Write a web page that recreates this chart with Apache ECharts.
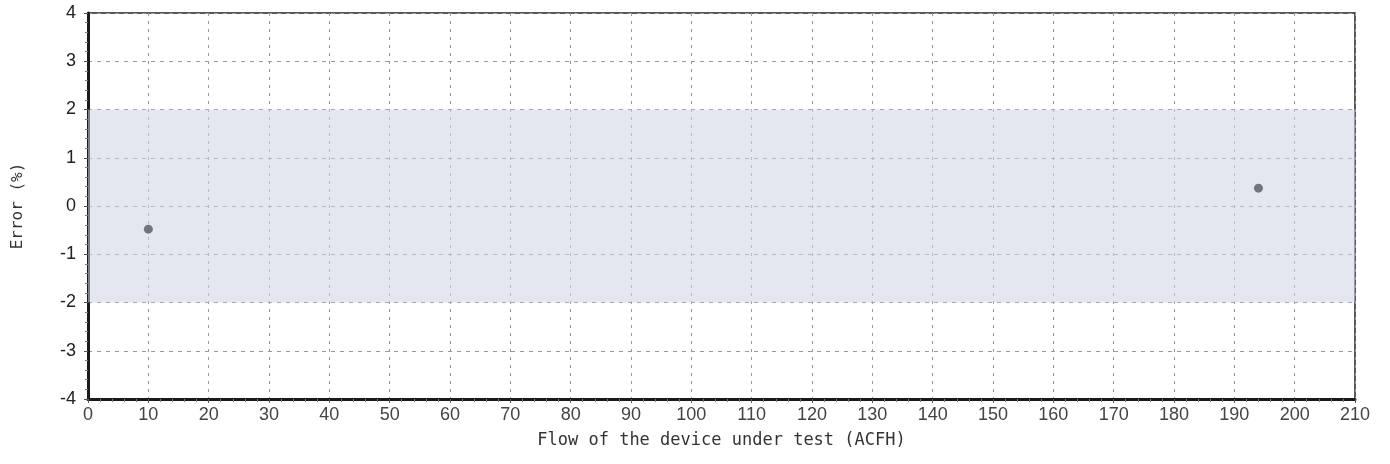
<!DOCTYPE html>
<html><head><meta charset="utf-8">
<script src="https://cdn.jsdelivr.net/npm/echarts@6/dist/echarts.min.js"></script>
<style>html,body{margin:0;padding:0;background:#fff}#c{width:1390px;height:464px}</style>
</head><body><div id="c"></div>
<script>
const xFlow = [10, 194];
const yError = [-0.48, 0.37];
const bandLimits = [-2, 2];
const xRange = [0, 210];
const yRange = [-4, 4];

const chart = echarts.init(document.getElementById('c'));
const font = 'Liberation Sans, Arial, sans-serif';
const nameFont = 'DejaVu Sans Mono, monospace';
chart.setOption({
  animation: false,
  backgroundColor: '#fff',
  grid: {left: 88, right: 35, top: 13, bottom: 65, show: true, borderColor: '#222', borderWidth: 1.5,
         containLabel: false, outerBoundsMode: 'none'},
  xAxis: {
    type: 'value', min: xRange[0], max: xRange[1], interval: 10,
    name: 'Flow of the device under test (ACFH)', nameLocation: 'middle', nameGap: 33,
    nameTextStyle: {fontFamily: nameFont, fontSize: 17, color: '#333'},
    axisLine: {show: true, onZero: false, lineStyle: {color: '#1a1a1a', width: 3}},
    axisTick: {show: true, length: 4, lineStyle: {color: '#555'}},
    minorTick: {show: true, splitNumber: 5, length: 3, lineStyle: {color: '#777'}},
    axisLabel: {fontFamily: font, fontSize: 18, color: '#444', margin: 7},
    splitLine: {show: true, lineStyle: {color: '#999', type: [3, 5], width: 1}}
  },
  yAxis: {
    type: 'value', min: yRange[0], max: yRange[1], interval: 1,
    name: 'Error (%)', nameLocation: 'middle', nameGap: 62, nameRotate: 90,
    nameTextStyle: {fontFamily: nameFont, fontSize: 16, color: '#333'},
    axisLine: {show: true, onZero: false, lineStyle: {color: '#1a1a1a', width: 3}},
    axisTick: {show: true, length: 4, lineStyle: {color: '#555'}},
    minorTick: {show: true, splitNumber: 5, length: 3, lineStyle: {color: '#777'}},
    axisLabel: {fontFamily: font, fontSize: 18, color: '#222', margin: 12},
    splitLine: {show: true, lineStyle: {color: '#999', type: [4, 5], width: 1}}
  },
  series: [{
    type: 'scatter',
    data: xFlow.map((x, i) => [x, yError[i]]),
    symbolSize: 9,
    itemStyle: {color: '#555a5f'},
    z: 5,
    markArea: {
      silent: true,
      itemStyle: {color: 'rgba(205,212,225,0.55)'},
      data: [[{xAxis: xRange[0], yAxis: bandLimits[0]}, {xAxis: xRange[1], yAxis: bandLimits[1]}]]
    }
  }]
});
</script></body></html>
